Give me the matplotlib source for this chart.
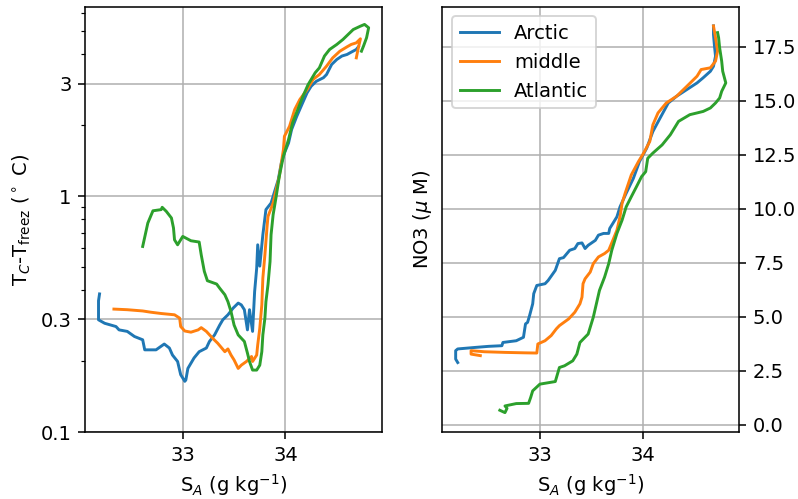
import matplotlib
matplotlib.use("Agg")
import matplotlib.pyplot as plt
from matplotlib.ticker import NullFormatter

# --- conservative temperature above freezing vs absolute salinity ---
sa_arctic_t = [32.19, 32.18, 32.18, 32.24, 32.35, 32.38, 32.46, 32.53, 32.61, 32.63, 32.74, 32.82,
               32.87, 32.90, 32.95, 32.98, 33.02, 33.03, 33.05, 33.11, 33.16, 33.23, 33.26, 33.31,
               33.36, 33.39, 33.44, 33.49, 33.54, 33.57, 33.60, 33.63, 33.65, 33.68, 33.70, 33.72,
               33.73, 33.75, 33.78, 33.81, 33.86, 33.90, 33.93, 33.96, 33.99, 34.03, 34.06, 34.11,
               34.16, 34.21, 34.25, 34.30, 34.37, 34.40, 34.45, 34.50, 34.55, 34.60, 34.64, 34.69, 34.71]
t_arctic = [0.385, 0.36, 0.299, 0.289, 0.280, 0.271, 0.267, 0.254, 0.246, 0.223, 0.223, 0.236,
            0.227, 0.212, 0.199, 0.175, 0.164, 0.166, 0.186, 0.206, 0.219, 0.227, 0.242, 0.258,
            0.284, 0.299, 0.314, 0.335, 0.352, 0.346, 0.330, 0.271, 0.330, 0.267, 0.394, 0.495,
            0.622, 0.505, 0.686, 0.877, 0.935, 1.066, 1.175, 1.384, 1.525, 1.68, 1.916, 2.18,
            2.446, 2.74, 2.925, 3.07, 3.18, 3.28, 3.62, 3.80, 3.93, 3.99, 4.08, 4.19, 4.30]

sa_middle_t = [32.33, 32.46, 32.61, 32.69, 32.79, 32.92, 32.97, 32.98, 33.02, 33.08, 33.15, 33.18,
               33.23, 33.29, 33.34, 33.38, 33.41, 33.44, 33.47, 33.50, 33.54, 33.57, 33.62, 33.67,
               33.68, 33.72, 33.73, 33.75, 33.77, 33.78, 33.80, 33.82, 33.83, 33.88, 33.94, 33.98,
               33.99, 34.04, 34.09, 34.14, 34.21, 34.27, 34.33, 34.40, 34.46, 34.53, 34.60, 34.64,
               34.69, 34.73, 34.71, 34.69]
t_middle = [0.332, 0.330, 0.326, 0.322, 0.318, 0.314, 0.304, 0.280, 0.268, 0.265, 0.271, 0.277,
            0.267, 0.250, 0.238, 0.227, 0.219, 0.225, 0.212, 0.202, 0.186, 0.192, 0.199, 0.209,
            0.199, 0.212, 0.234, 0.275, 0.346, 0.449, 0.564, 0.733, 0.82, 0.935, 1.213, 1.574,
            1.794, 1.98, 2.33, 2.57, 2.83, 3.13, 3.28, 3.56, 3.86, 4.12, 4.30, 4.40,
            4.47, 4.65, 4.26, 3.86]

sa_atlantic_t = [32.61, 32.66, 32.71, 32.79, 32.80, 32.84, 32.89, 32.91, 32.92, 32.95, 33.00, 33.08,
                 33.16, 33.18, 33.21, 33.24, 33.33, 33.36, 33.41, 33.44, 33.47, 33.50, 33.54, 33.60,
                 33.63, 33.65, 33.68, 33.72, 33.75, 33.77, 33.78, 33.80, 33.81, 33.83, 33.85, 33.86,
                 33.88, 33.91, 33.94, 33.98, 34.03, 34.07, 34.12, 34.17, 34.22, 34.29, 34.33, 34.38,
                 34.43, 34.50, 34.56, 34.61, 34.66, 34.73, 34.77, 34.81, 34.79, 34.76, 34.74]
t_atlantic = [0.612, 0.769, 0.867, 0.877, 0.897, 0.862, 0.808, 0.733, 0.653, 0.622, 0.675, 0.647,
              0.639, 0.564, 0.480, 0.438, 0.424, 0.407, 0.382, 0.357, 0.324, 0.284, 0.258, 0.242,
              0.216, 0.199, 0.183, 0.183, 0.192, 0.219, 0.258, 0.304, 0.357, 0.421, 0.528, 0.686,
              0.834, 0.998, 1.213, 1.476, 1.738, 2.05, 2.33, 2.65, 2.97, 3.34, 3.50, 3.93,
              4.19, 4.40, 4.62, 4.85, 5.09, 5.26, 5.35, 5.18, 4.70, 4.33, 4.12]

# --- nitrate vs absolute salinity ---
sa_arctic_n = [32.20, 32.18, 32.18, 32.20, 32.37, 32.50, 32.63, 32.64, 32.77, 32.84, 32.85, 32.86,
               32.88, 32.90, 32.93, 32.94, 32.97, 33.05, 33.08, 33.15, 33.19, 33.23, 33.29, 33.34,
               33.37, 33.41, 33.44, 33.47, 33.54, 33.57, 33.62, 33.67, 33.68, 33.71, 33.75, 33.78,
               33.84, 33.91, 33.97, 34.04, 34.10, 34.17, 34.25, 34.33, 34.43, 34.53, 34.59, 34.66,
               34.69, 34.71, 34.70, 34.69, 34.69]
no3_arctic = [2.88, 3.04, 3.43, 3.51, 3.58, 3.63, 3.66, 3.81, 3.89, 4.05, 4.36, 4.67,
              4.74, 5.06, 5.60, 6.07, 6.45, 6.53, 6.68, 7.15, 7.69, 7.74, 8.08, 8.16,
              8.39, 8.42, 8.16, 8.31, 8.54, 8.78, 8.86, 8.86, 9.09, 9.32, 9.63, 10.09,
              10.72, 11.41, 12.19, 12.81, 13.58, 14.20, 14.90, 15.21, 15.52, 15.83, 16.07, 16.37,
              16.60, 17.07, 17.53, 18.08, 18.47]

sa_middle_n = [32.42, 32.33, 32.33, 32.46, 32.66, 32.85, 32.97, 32.98, 33.05, 33.11, 33.16, 33.19,
               33.28, 33.34, 33.39, 33.41, 33.42, 33.44, 33.49, 33.52, 33.57, 33.63, 33.67, 33.71,
               33.75, 33.78, 33.80, 33.83, 33.89, 33.96, 34.01, 34.07, 34.10, 34.15, 34.23, 34.33,
               34.43, 34.53, 34.57, 34.66, 34.71, 34.73, 34.71, 34.69]
no3_middle = [3.20, 3.27, 3.43, 3.38, 3.35, 3.33, 3.32, 3.74, 3.89, 4.13, 4.44, 4.59,
              4.90, 5.21, 5.60, 5.91, 6.53, 6.76, 7.07, 7.46, 7.77, 7.93, 8.08, 8.54,
              9.01, 9.63, 10.25, 10.72, 11.57, 12.19, 12.58, 13.12, 13.89, 14.44, 14.90, 15.21,
              15.67, 16.14, 16.45, 16.53, 16.84, 17.30, 17.93, 18.47]

sa_atlantic_n = [32.61, 32.66, 32.68, 32.66, 32.77, 32.89, 32.91, 32.93, 33.00, 33.15, 33.19, 33.24,
                 33.32, 33.36, 33.39, 33.47, 33.52, 33.55, 33.58, 33.63, 33.67, 33.70, 33.75, 33.80,
                 33.84, 33.89, 33.94, 33.99, 34.03, 34.05, 34.10, 34.19, 34.27, 34.35, 34.46, 34.53,
                 34.59, 34.66, 34.71, 34.75, 34.77, 34.81, 34.78, 34.77, 34.75, 34.74, 34.73]
no3_atlantic = [0.67, 0.56, 0.76, 0.87, 0.98, 0.99, 1.26, 1.57, 1.88, 2.00, 2.65, 2.73,
                2.96, 3.27, 3.81, 4.20, 4.98, 5.60, 6.22, 6.84, 7.46, 8.08, 8.86, 9.47,
                10.09, 10.56, 11.02, 11.49, 11.72, 12.34, 12.58, 12.96, 13.43, 14.05, 14.36, 14.44,
                14.51, 14.67, 14.90, 15.13, 15.44, 15.83, 16.37, 16.84, 17.46, 17.93, 18.16]

labels = ['Arctic', 'middle', 'Atlantic']
t_ticks = [0.1, 0.3, 1, 3]

fig, (ax1, ax2) = plt.subplots(1, 2, figsize=(5.707, 3.565), dpi=140)
fig.subplots_adjust(left=0.1064, right=0.9253, bottom=0.1343, top=0.9866, wspace=0.202)

ax1.plot(sa_arctic_t, t_arctic, label=labels[0])
ax1.plot(sa_middle_t, t_middle, label=labels[1])
ax1.plot(sa_atlantic_t, t_atlantic, label=labels[2])
ax1.set_yscale('log')
ax1.set_ylim(bottom=0.1)
ax1.set_yticks(t_ticks)
ax1.set_yticklabels([str(t) for t in t_ticks])
ax1.yaxis.set_minor_formatter(NullFormatter())
ax1.set_xlabel('S$_A$ (g kg$^{-1}$)')
ax1.set_ylabel('T$_C$-T$_{\\rm freez}$ ($^\\circ$ C)')
ax1.grid()

ax2.plot(sa_arctic_n, no3_arctic, label=labels[0])
ax2.plot(sa_middle_n, no3_middle, label=labels[1])
ax2.plot(sa_atlantic_n, no3_atlantic, label=labels[2])
ax2.yaxis.tick_right()
ax2.set_xlabel('S$_A$ (g kg$^{-1}$)')
ax2.set_ylabel('NO3 ($\\mu$ M)')
ax2.legend(loc='upper left')
ax2.grid()

fig.savefig('out.png')
